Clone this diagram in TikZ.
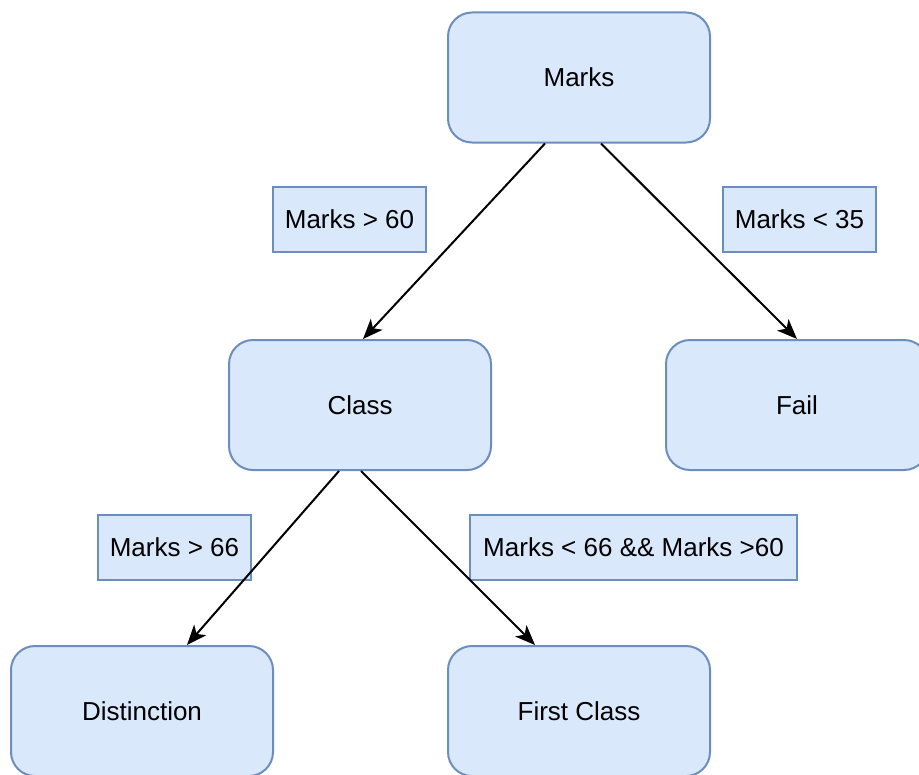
\documentclass[tikz,border=0pt]{standalone}
\usepackage{fontspec}
\setmainfont{Liberation Sans}
\usetikzlibrary{arrows.meta,calc}
\definecolor{boxfill}{HTML}{DAE8FC}
\definecolor{boxdraw}{HTML}{6C8EBF}
\begin{document}
\begin{tikzpicture}[x=0.75pt,y=-0.75pt,
  every node/.style={font=\fontsize{19.5pt}{23pt}\selectfont},
  roundbox/.style={draw=boxdraw,fill=boxfill,line width=1.5pt,rounded corners=18pt,
    minimum width=196.5pt,minimum height=97.5pt,inner sep=0pt},
  lbl/.style={draw=boxdraw,fill=boxfill,line width=1.5pt,minimum height=48.75pt,inner sep=0pt},
  arr/.style={line width=1.5pt,-{Stealth[length=15pt,width=12pt,inset=4pt]}}]
\useasboundingbox (0,0) rectangle (919,774);
\clip (0,0) rectangle (919,774);
\node[roundbox] (m) at (579,77.5) {Marks};
\node[roundbox] (c) at (360,405) {Class};
\node[roundbox] (f) at (797,405) {Fail};
\node[roundbox] (d) at (142,711) {Distinction};
\node[roundbox] (fc) at (579,711) {First Class};
\node[lbl,minimum width=114.75pt] (l1) at (349.5,219.5) {Marks > 60};
\node[lbl,minimum width=114.75pt] (l2) at (799.5,219.5) {Marks < 35};
\node[lbl,minimum width=114.75pt] (l3) at (174.5,547) {Marks > 66};
\node[lbl,minimum width=245.25pt] (l4) at (633.5,547) {Marks < 66 \&\& Marks >60};
\draw[arr] ($(m.south)+(-34,0)$) -- ($(c.north)+(3,0)$);
\draw[arr] ($(m.south)+(22,0)$) -- (f.north);
\draw[arr] ($(c.south)+(-21,0)$) -- ($(d.north)+(45,0)$);
\draw[arr] ($(c.south)+(1,0)$) -- ($(fc.north)+(-44,0)$);
\end{tikzpicture}
\end{document}
